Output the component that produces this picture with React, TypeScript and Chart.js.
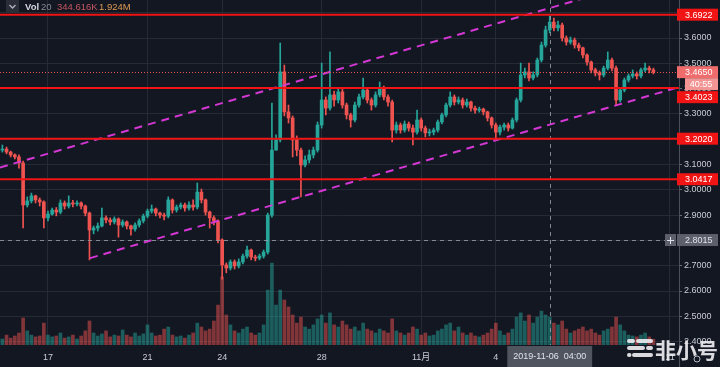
import React, { useEffect, useRef } from 'react';
import { Chart, registerables } from 'chart.js';

Chart.register(...registerables);

// ---------- data ----------
const candleHours = 4; // 4h candles, x = hours since 2019-10-15 00:00
const firstOpen = 3.149;
const closes = [
  3.157, 3.161, 3.149, 3.138, 3.130, 3.106, 2.940, 2.956, 2.976, 2.960,
  2.952, 2.889, 2.904, 2.920, 2.912, 2.948, 2.936, 2.948, 2.944, 2.948,
  2.936, 2.908, 2.841, 2.849, 2.857, 2.889, 2.881, 2.873, 2.885, 2.861,
  2.873, 2.857, 2.845, 2.861, 2.877, 2.896, 2.916, 2.924, 2.908, 2.900,
  2.896, 2.960, 2.920, 2.932, 2.940, 2.928, 2.940, 2.932, 2.991, 2.960,
  2.912, 2.889, 2.877, 2.802, 2.703, 2.691, 2.715, 2.699, 2.715, 2.738,
  2.762, 2.734, 2.730, 2.738, 2.754, 2.900, 3.157, 3.197, 3.466, 3.308,
  3.284, 3.197, 3.157, 3.098, 3.118, 3.138, 3.157, 3.256, 3.355, 3.323,
  3.375, 3.355, 3.387, 3.335, 3.296, 3.276, 3.335, 3.367, 3.394, 3.355,
  3.335, 3.375, 3.402, 3.367, 3.347, 3.236, 3.256, 3.236, 3.260, 3.244,
  3.228, 3.276, 3.244, 3.225, 3.228, 3.236, 3.268, 3.296, 3.335, 3.367,
  3.347, 3.355, 3.335, 3.347, 3.323, 3.315, 3.319, 3.308, 3.284, 3.256,
  3.228, 3.248, 3.256, 3.244, 3.276, 3.355, 3.454, 3.466, 3.442, 3.454,
  3.513, 3.572, 3.632, 3.663, 3.640, 3.651, 3.600, 3.584, 3.592, 3.572,
  3.561, 3.533, 3.505, 3.474, 3.462, 3.454, 3.481, 3.513, 3.481, 3.355,
  3.394, 3.434, 3.450, 3.458, 3.450, 3.474, 3.481, 3.474, 3.465,
];
const highs = [
  3.173, 3.177, 3.169, 3.153, 3.142, 3.138, 3.114, 2.972, 2.987, 2.979,
  2.968, 2.956, 2.916, 2.928, 2.930, 2.960, 2.956, 2.976, 2.958, 2.956,
  2.952, 2.940, 2.912, 2.857, 2.869, 2.928, 2.897, 2.889, 2.893, 2.889,
  2.881, 2.877, 2.861, 2.869, 2.885, 2.904, 2.924, 2.940, 2.928, 2.912,
  2.908, 2.972, 2.964, 2.940, 2.948, 2.948, 2.952, 2.960, 3.027, 3.003,
  2.964, 2.916, 2.897, 2.881, 2.806, 2.711, 2.723, 2.723, 2.727, 2.746,
  2.778, 2.766, 2.742, 2.746, 2.762, 2.908, 3.343, 3.217, 3.580, 3.493,
  3.335, 3.292, 3.213, 3.165, 3.134, 3.157, 3.169, 3.268, 3.501, 3.367,
  3.545, 3.390, 3.402, 3.398, 3.343, 3.303, 3.347, 3.378, 3.442, 3.402,
  3.363, 3.387, 3.426, 3.410, 3.375, 3.355, 3.268, 3.264, 3.272, 3.268,
  3.256, 3.315, 3.284, 3.252, 3.240, 3.244, 3.276, 3.303, 3.343, 3.387,
  3.375, 3.367, 3.363, 3.359, 3.351, 3.331, 3.327, 3.323, 3.311, 3.288,
  3.264, 3.256, 3.264, 3.264, 3.284, 3.363, 3.501, 3.481, 3.501, 3.466,
  3.521, 3.584, 3.647, 3.687, 3.679, 3.667, 3.659, 3.608, 3.604, 3.600,
  3.580, 3.564, 3.537, 3.509, 3.481, 3.470, 3.489, 3.545, 3.521, 3.489,
  3.402, 3.442, 3.458, 3.474, 3.466, 3.481, 3.501, 3.489, 3.481,
];
const lows = [
  3.146, 3.149, 3.142, 3.130, 3.122, 3.086, 2.849, 2.932, 2.948, 2.948,
  2.936, 2.849, 2.877, 2.900, 2.897, 2.905, 2.924, 2.928, 2.932, 2.936,
  2.924, 2.897, 2.723, 2.826, 2.837, 2.853, 2.869, 2.861, 2.865, 2.813,
  2.853, 2.845, 2.821, 2.837, 2.853, 2.869, 2.889, 2.908, 2.897, 2.889,
  2.881, 2.889, 2.908, 2.912, 2.924, 2.916, 2.920, 2.920, 2.924, 2.948,
  2.900, 2.849, 2.861, 2.790, 2.647, 2.672, 2.683, 2.687, 2.691, 2.707,
  2.730, 2.723, 2.719, 2.723, 2.730, 2.746, 2.892, 3.157, 3.189, 3.292,
  3.264, 3.130, 3.134, 2.972, 3.090, 3.106, 3.126, 3.149, 3.244, 3.296,
  3.315, 3.331, 3.343, 3.323, 3.280, 3.248, 3.268, 3.327, 3.359, 3.343,
  3.315, 3.327, 3.367, 3.355, 3.331, 3.189, 3.224, 3.224, 3.228, 3.232,
  3.177, 3.220, 3.232, 3.209, 3.213, 3.217, 3.228, 3.260, 3.288, 3.327,
  3.335, 3.339, 3.323, 3.327, 3.311, 3.303, 3.307, 3.296, 3.272, 3.244,
  3.197, 3.217, 3.236, 3.232, 3.240, 3.268, 3.347, 3.442, 3.430, 3.434,
  3.446, 3.505, 3.564, 3.620, 3.628, 3.628, 3.588, 3.572, 3.576, 3.560,
  3.549, 3.521, 3.493, 3.462, 3.450, 3.434, 3.446, 3.474, 3.470, 3.335,
  3.347, 3.387, 3.426, 3.442, 3.438, 3.442, 3.466, 3.462, 3.458,
];
// volume in millions
const volumes = [
  2.7, 2.0, 3.3, 2.3, 3.0, 4.0, 9.0, 4.7, 3.3, 2.7,
  3.0, 7.3, 3.3, 2.7, 3.0, 4.0, 2.3, 2.7, 3.3, 2.0,
  3.0, 4.7, 8.0, 4.0, 3.0, 3.7, 4.7, 2.7, 3.3, 3.0,
  5.0, 3.3, 2.7, 4.0, 3.0, 3.7, 6.7, 4.0, 3.0, 3.3,
  5.3, 6.0, 3.3, 2.7, 3.0, 2.3, 3.3, 4.0, 7.3, 6.0,
  4.7, 5.3, 8.0, 13.3, 22.7, 10.0, 6.7, 4.7, 4.0, 5.3,
  6.0, 4.0, 3.3, 4.0, 6.7, 18.3, 27.3, 13.3, 18.3, 15.0,
  12.7, 10.0, 7.3, 9.3, 6.0, 5.3, 6.7, 8.7, 10.0, 7.3,
  10.7, 6.7, 6.0, 8.0, 6.7, 5.3, 6.0, 4.7, 7.3, 5.3,
  4.7, 4.0, 5.3, 4.7, 4.0, 8.7, 4.7, 4.0, 3.3, 4.0,
  6.0, 5.3, 3.3, 4.0, 3.0, 3.3, 4.7, 5.3, 6.7, 7.3,
  4.7, 6.0, 4.0, 3.3, 4.0, 3.0, 2.7, 3.3, 4.0, 5.3,
  7.3, 4.7, 3.3, 4.0, 5.3, 9.3, 10.7, 8.0, 10.0, 7.3,
  9.3, 11.3, 10.0, 9.3, 7.3, 6.7, 8.0, 5.3, 4.0, 4.7,
  5.3, 6.0, 4.7, 5.3, 4.0, 3.3, 4.7, 5.3, 6.0, 9.3,
  6.7, 4.7, 3.3, 3.0, 2.7, 3.3, 4.0, 2.7, 1.924,
];

const xMin = 1.7;
const xMax = 656.7;
const xTickHours = [48, 144, 216, 312, 408, 480, 648];
const xTickLabels = ['17', '21', '24', '28', '11月', '4', '11'];
const yMin = 2.3866;
const yMax = 3.7502;
const yTickValues = [2.4, 2.5, 2.6, 2.7, 2.8, 2.9, 3.0, 3.1, 3.2, 3.3, 3.4, 3.5, 3.6, 3.7];
const volMax = 115;

const levelLines = [3.6922, 3.4023, 3.202, 3.0417];
const lastPrice = 3.465;
const countdownText = '40:55';
const crossPrice = 2.8015;
const crossHour = 532;
const crossTimeText = '2019-11-06  04:00';
const upperTrend = [
  { x: 1.7, y: 3.088 },
  { x: 580.5, y: 3.776 },
];
const lowerTrend = [
  { x: 88.5, y: 2.73 },
  { x: 656.7, y: 3.406 },
];
const legendTitle = 'Vol';
const legendLen = '20';
const legendVal1 = '344.616K';
const legendVal2 = '1.924M';
const watermarkText = '非小号';

// ---------- style ----------
const BG = '#131722';
const GRID = '#262a35';
const TXT = '#c9ccd4';
const UP = '#26a69a';
const DOWN = '#ef5350';
const UP_V = 'rgba(38,166,154,0.5)';
const DOWN_V = 'rgba(239,83,80,0.5)';
const RED = '#f01414';
const MAGENTA = '#d437d4';
const FONT = '"Liberation Sans", Arial, "Noto Sans CJK SC", sans-serif';

export default function App() {
  const ref = useRef<HTMLCanvasElement | null>(null);

  useEffect(() => {
    document.body.style.margin = '0';
    document.body.style.background = BG;
    const canvas = ref.current;
    if (!canvas) return;

    const opens = closes.map((_, i) => (i === 0 ? firstOpen : closes[i - 1]));
    const hours = closes.map((_, i) => i * candleHours);
    const isUp = closes.map((c, i) => c >= opens[i]);

    const bodyData = closes.map((c, i) => ({ x: hours[i], y: [opens[i], c] }));
    const wickData = closes.map((c, i) => ({
      x: hours[i],
      y: [Math.min(lows[i], opens[i], c), Math.max(highs[i], opens[i], c)],
    }));
    const volData = volumes.map((v, i) => ({ x: hours[i], y: v }));

    const overlay = {
      id: 'overlay',
      beforeDraw(chart: any) {
        const ctx = chart.ctx;
        ctx.save();
        ctx.fillStyle = BG;
        ctx.fillRect(0, 0, chart.width, chart.height);
        ctx.restore();
      },
      afterDatasetsDraw(chart: any) {
        const ctx = chart.ctx;
        const ys = chart.scales.y;
        const xs = chart.scales.x;
        const a = chart.chartArea;
        ctx.save();
        ctx.beginPath();
        ctx.rect(a.left, a.top, a.right - a.left, a.bottom - a.top);
        ctx.clip();
        // crosshair
        ctx.strokeStyle = 'rgba(150,154,164,0.85)';
        ctx.lineWidth = 1;
        ctx.setLineDash([4, 4]);
        const cx = Math.round(xs.getPixelForValue(crossHour)) + 0.5;
        ctx.beginPath();
        ctx.moveTo(cx, a.top);
        ctx.lineTo(cx, a.bottom);
        ctx.stroke();
        const cy = Math.round(ys.getPixelForValue(crossPrice)) + 0.5;
        ctx.beginPath();
        ctx.moveTo(a.left, cy);
        ctx.lineTo(a.right, cy);
        ctx.stroke();
        // last price dotted
        ctx.strokeStyle = DOWN;
        ctx.setLineDash([1, 2]);
        const ly = Math.round(ys.getPixelForValue(lastPrice)) + 0.5;
        ctx.beginPath();
        ctx.moveTo(a.left, ly);
        ctx.lineTo(a.right, ly);
        ctx.stroke();
        // level lines
        ctx.setLineDash([]);
        ctx.strokeStyle = RED;
        ctx.lineWidth = 2;
        levelLines.forEach((v) => {
          const y = ys.getPixelForValue(v);
          ctx.beginPath();
          ctx.moveTo(a.left, y);
          ctx.lineTo(a.right, y);
          ctx.stroke();
        });
        ctx.restore();
      },
      afterDraw(chart: any) {
        const ctx = chart.ctx;
        const ys = chart.scales.y;
        const xs = chart.scales.x;
        const a = chart.chartArea;
        ctx.save();
        // axis border through time axis
        ctx.strokeStyle = '#4c505b';
        ctx.lineWidth = 1;
        ctx.beginPath();
        ctx.moveTo(a.right + 0.5, 0);
        ctx.lineTo(a.right + 0.5, chart.height);
        ctx.stroke();

        // price labels with collision avoidance
        const H = 12;
        type L = { v: number; text: string; bg: string; fg: string; extra?: string; plus?: boolean };
        const labels: L[] = [
          ...levelLines.map((v) => ({ v, text: v.toFixed(4), bg: RED, fg: '#ffffff' })),
          { v: lastPrice, text: lastPrice.toFixed(4), bg: '#ee6c6c', fg: '#ffffff', extra: countdownText },
          { v: crossPrice, text: crossPrice.toFixed(4), bg: '#5d606b', fg: '#e0e3eb', plus: true },
        ];
        labels.sort((p, q) => ys.getPixelForValue(p.v) - ys.getPixelForValue(q.v));
        let prevBottom = -100;
        ctx.font = `9px ${FONT}`;
        ctx.textBaseline = 'middle';
        labels.forEach((lb) => {
          let top = ys.getPixelForValue(lb.v) - H / 2;
          if (top < prevBottom + 1) top = prevBottom + 1;
          const left = a.right - 2;
          ctx.fillStyle = lb.bg;
          ctx.fillRect(left, top, 41, H);
          ctx.fillStyle = lb.fg;
          ctx.textAlign = 'left';
          ctx.fillText(lb.text, a.right + 6, top + H / 2 + 0.5);
          let bottom = top + H;
          if (lb.extra) {
            ctx.fillStyle = '#f29494';
            ctx.fillRect(a.right + 6, bottom, 33, H);
            ctx.fillStyle = '#ffffff';
            ctx.textAlign = 'center';
            ctx.fillText(lb.extra, a.right + 22, bottom + H / 2 + 0.5);
            bottom += H;
          }
          if (lb.plus) {
            ctx.fillStyle = lb.bg;
            ctx.fillRect(left - 12, top, 11, H);
            ctx.strokeStyle = '#e0e3eb';
            ctx.lineWidth = 1;
            ctx.beginPath();
            const px = left - 6.5;
            const py = Math.round(top + H / 2) + 0.5;
            ctx.moveTo(px - 3.5, py);
            ctx.lineTo(px + 3.5, py);
            ctx.moveTo(px, py - 3.5);
            ctx.lineTo(px, py + 3.5);
            ctx.stroke();
          }
          prevBottom = bottom;
        });

        // crosshair time label
        const cx = xs.getPixelForValue(crossHour);
        ctx.font = `9px ${FONT}`;
        const tw = ctx.measureText(crossTimeText).width + 12;
        ctx.fillStyle = '#4f545f';
        ctx.fillRect(cx - tw / 2, a.bottom + 1, tw, chart.height - a.bottom - 1);
        ctx.fillStyle = '#e0e3eb';
        ctx.textAlign = 'center';
        ctx.fillText(crossTimeText, cx, a.bottom + 12);

        // legend
        ctx.fillStyle = '#2a2e39';
        ctx.fillRect(6, 0, 13, 13);
        ctx.strokeStyle = '#b2b5be';
        ctx.lineWidth = 1.3;
        ctx.beginPath();
        ctx.moveTo(9.5, 5);
        ctx.lineTo(12.5, 8);
        ctx.lineTo(15.5, 5);
        ctx.stroke();
        ctx.textAlign = 'left';
        ctx.textBaseline = 'middle';
        ctx.font = `bold 9.5px ${FONT}`;
        ctx.fillStyle = '#d1d4dc';
        ctx.fillText(legendTitle, 25, 7);
        ctx.font = `9.5px ${FONT}`;
        ctx.fillStyle = '#868993';
        ctx.fillText(legendLen, 41, 7);
        ctx.fillStyle = '#c45560';
        ctx.fillText(legendVal1, 57, 7);
        ctx.fillStyle = '#df9a52';
        ctx.fillText(legendVal2, 99, 7);

        // watermark
        ctx.strokeStyle = 'rgba(236,236,240,0.92)';
        ctx.lineCap = 'round';
        ctx.lineWidth = 4;
        const seg = (x1: number, x2: number, y: number) => {
          ctx.beginPath();
          ctx.moveTo(x1, y);
          ctx.lineTo(x2, y);
          ctx.stroke();
        };
        seg(629, 633, 341);
        seg(638, 651, 341);
        seg(629, 643, 348);
        seg(648, 651, 348);
        seg(629, 629.5, 355);
        seg(634, 651, 355);
        ctx.lineCap = 'butt';
        ctx.fillStyle = 'rgba(236,236,240,0.92)';
        ctx.font = `bold 21px "Noto Sans CJK SC", sans-serif`;
        ctx.textBaseline = 'alphabetic';
        ctx.fillText(watermarkText, 655, 358);
        // small settings icon
        ctx.strokeStyle = 'rgba(200,203,210,0.9)';
        ctx.lineWidth = 1;
        ctx.beginPath();
        ctx.arc(697, 359, 3, 0, Math.PI * 2);
        ctx.stroke();
        ctx.restore();
      },
    };

    const chart = new Chart(canvas, {
      type: 'bar',
      data: {
        datasets: [
          {
            type: 'line',
            data: upperTrend,
            borderColor: MAGENTA,
            borderWidth: 2,
            borderDash: [8, 6],
            pointRadius: 0,
            yAxisID: 'y',
            order: 0,
          } as any,
          {
            type: 'line',
            data: lowerTrend,
            borderColor: MAGENTA,
            borderWidth: 2,
            borderDash: [8, 6],
            pointRadius: 0,
            yAxisID: 'y',
            order: 0,
          } as any,
          {
            data: bodyData,
            backgroundColor: isUp.map((u) => (u ? UP : DOWN)),
            barThickness: 3,
            minBarLength: 1,
            grouped: false,
            yAxisID: 'y',
            order: 1,
          } as any,
          {
            data: wickData,
            backgroundColor: isUp.map((u) => (u ? UP : DOWN)),
            barThickness: 1,
            grouped: false,
            yAxisID: 'y',
            order: 2,
          } as any,
          {
            data: volData,
            backgroundColor: isUp.map((u) => (u ? UP_V : DOWN_V)),
            barThickness: 3,
            grouped: false,
            yAxisID: 'yv',
            order: 3,
          } as any,
        ],
      },
      options: {
        responsive: false,
        animation: false,
        events: [],
        layout: { padding: 0 },
        plugins: { legend: { display: false }, tooltip: { enabled: false } },
        scales: {
          x: {
            type: 'linear',
            min: xMin,
            max: xMax,
            offset: false,
            grid: { color: GRID, offset: false, drawTicks: false },
            border: { display: false },
            ticks: {
              color: TXT,
              font: { size: 9, family: FONT },
              padding: 7,
              autoSkip: false,
              maxRotation: 0,
              callback: (v: any) => {
                const k = xTickHours.indexOf(Number(v));
                return k >= 0 ? xTickLabels[k] : '';
              },
            },
            afterBuildTicks: (s: any) => {
              s.ticks = xTickHours.map((v) => ({ value: v }));
            },
            afterFit: (s: any) => {
              s.height = 22;
              s.paddingLeft = 0;
              s.paddingRight = 0;
            },
          } as any,
          y: {
            type: 'linear',
            position: 'right',
            min: yMin,
            max: yMax,
            grid: { color: GRID, tickLength: 3, tickColor: '#6a6e79' },
            border: { display: true, color: '#4c505b' },
            ticks: {
              color: TXT,
              font: { size: 9, family: FONT },
              padding: 2,
              callback: (v: any) => Number(v).toFixed(4),
            },
            afterBuildTicks: (s: any) => {
              s.ticks = yTickValues.map((v) => ({ value: v }));
            },
            afterFit: (s: any) => {
              s.width = 41;
              s.paddingTop = 0;
              s.paddingBottom = 0;
            },
          } as any,
          yv: {
            type: 'linear',
            display: false,
            min: 0,
            max: volMax,
          },
        },
      } as any,
      plugins: [overlay],
    });

    return () => chart.destroy();
  }, []);

  return (
    <div style={{ width: 720, height: 367, background: BG }}>
      <canvas ref={ref} width={720} height={367} style={{ display: 'block' }} />
    </div>
  );
}
